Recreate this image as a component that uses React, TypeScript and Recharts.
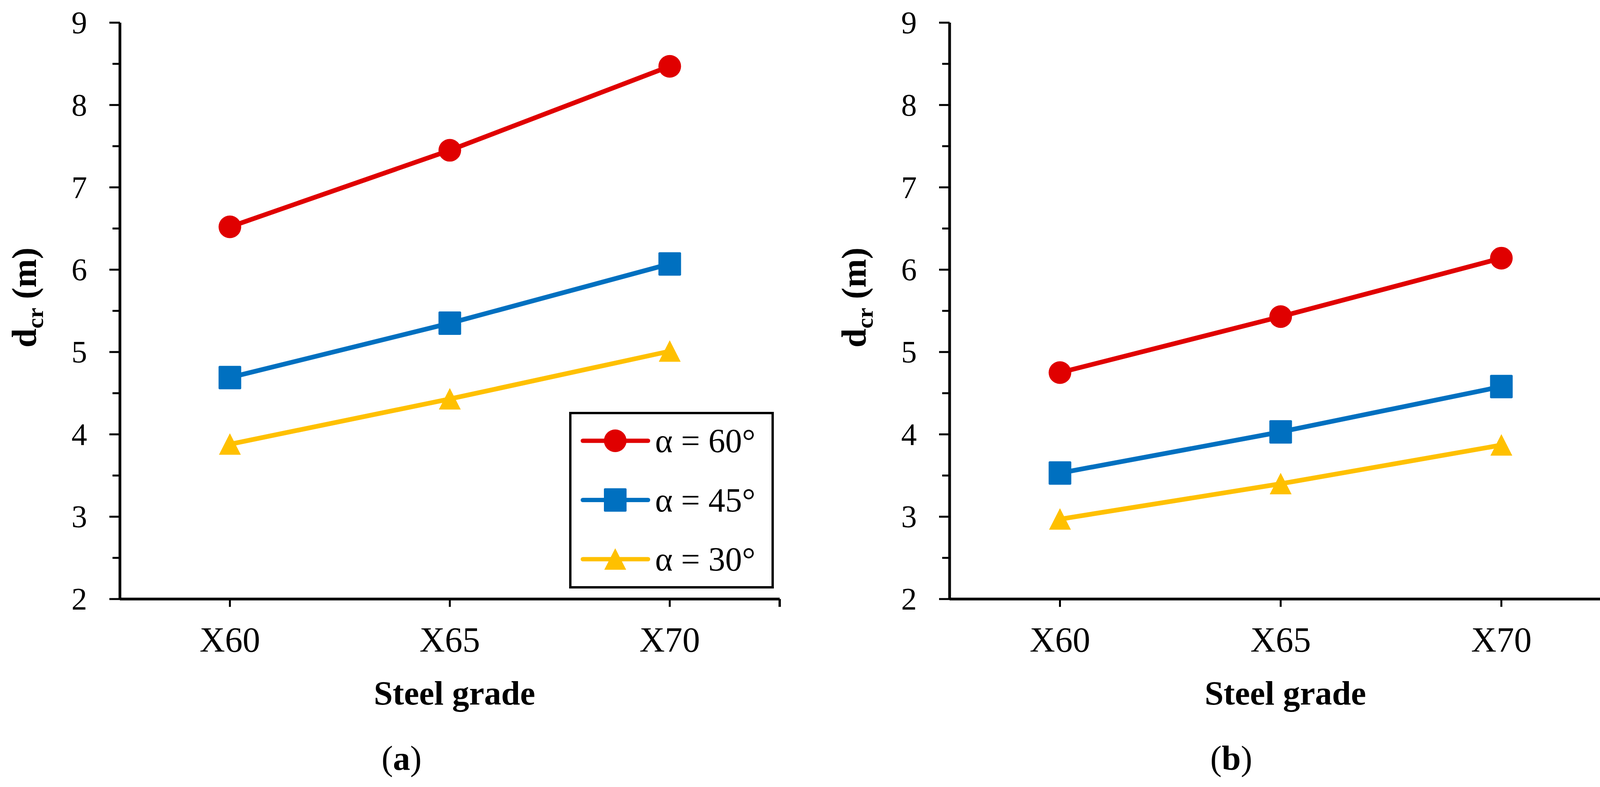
import React from 'react'
import { LineChart, Line, XAxis, YAxis, Legend } from 'recharts'

const grades = ['X60', 'X65', 'X70']

// panel (a)
const a60 = [6.52, 7.45, 8.47]
const a45 = [4.69, 5.35, 6.07]
const a30 = [3.88, 4.43, 5.01]

// panel (b)
const b60 = [4.75, 5.43, 6.14]
const b45 = [3.53, 4.03, 4.58]
const b30 = [2.97, 3.4, 3.87]

const yTicks = [2, 2.5, 3, 3.5, 4, 4.5, 5, 5.5, 6, 6.5, 7, 7.5, 8, 8.5, 9]

const SERIES = [
  { key: 's60', name: 'α = 60°', color: '#E00000', shape: 'circle' },
  { key: 's45', name: 'α = 45°', color: '#0070C0', shape: 'square' },
  { key: 's30', name: 'α = 30°', color: '#FFC000', shape: 'triangle' },
]

const FONT = '"Liberation Serif", "Times New Roman", serif'
const W = 2076
const H = 2014
const PLOT_TOP = 58
const PLOT_BOTTOM = 1533

function toRows(s60: number[], s45: number[], s30: number[]) {
  return grades.map((g, i) => ({ grade: g, s60: s60[i], s45: s45[i], s30: s30[i] }))
}

function Marker({ shape, cx, cy, color }: { shape: string; cx: number; cy: number; color: string }) {
  if (shape === 'circle') return <circle cx={cx} cy={cy} r={29} fill={color} />
  if (shape === 'square') return <rect x={cx - 29} y={cy - 30} width={58} height={60} rx={3} fill={color} />
  return <path d={`M${cx},${cy - 28} L${cx + 28},${cy + 27} L${cx - 28},${cy + 27} Z`} fill={color} strokeLinejoin="round" />
}

const makeDot = (shape: string, color: string) => (props: any) => {
  const { cx, cy, index } = props
  if (cx == null || cy == null) return <g key={`d-${index}`} />
  return <Marker key={`d-${index}`} shape={shape} cx={cx} cy={cy} color={color} />
}

function YTick({ x, y, payload }: any) {
  const major = Number.isInteger(payload.value)
  return (
    <g>
      <line x1={x - (major ? 27 : 19)} x2={x} y1={y} y2={y} stroke="#000" strokeWidth={5} />
      {major && (
        <text x={x - 84} y={y} dy="0.34em" textAnchor="end" fontSize={80} fontFamily={FONT} fill="#000">
          {payload.value}
        </text>
      )}
    </g>
  )
}

function XTick({ x, y, payload, edge }: any) {
  const last = payload.index === grades.length - 1
  return (
    <g>
      <line x1={x} x2={x} y1={y} y2={y + 20} stroke="#000" strokeWidth={5} />
      {last && <line x1={x + edge} x2={x + edge} y1={y} y2={y + 20} stroke="#000" strokeWidth={6} />}
      <text x={x} y={y + 135} textAnchor="middle" fontSize={90} fontFamily={FONT} fill="#000">
        {payload.value}
      </text>
    </g>
  )
}

const yTitle = (props: any) => {
  const { x, width, y, height } = props.viewBox
  const bx = x + width - 215
  const by = y + height / 2 - 34
  return (
    <text x={bx} y={by} transform={`rotate(-90 ${bx} ${by})`} textAnchor="middle" fontSize={88} fontWeight="bold" fontFamily={FONT} fill="#000">
      d<tspan fontSize={60} dy={18}>cr</tspan>
      <tspan dy={-18}> (m)</tspan>
    </text>
  )
}

const xTitle = (caption: string) => (props: any) => {
  const { x, y, width } = props.viewBox
  return (
    <g>
      <text x={x + width / 2 + 12} y={y + 270} textAnchor="middle" fontSize={87} fontWeight="bold" fontFamily={FONT} fill="#000">
        Steel grade
      </text>
      <text x={x + 721} y={y + 437} textAnchor="middle" fontSize={88} fontFamily={FONT} fill="#000">
        (<tspan fontWeight="bold">{caption}</tspan>)
      </text>
    </g>
  )
}

function LegendBox({ payload }: any) {
  // keep the series order of the reference legend
  const rows = SERIES.filter((s) => (payload || []).some((p: any) => p.dataKey === s.key))
  return (
    <svg width={524} height={452} style={{ display: 'block' }}>
      <rect x={3} y={3} width={518} height={446} fill="#fff" stroke="#000" strokeWidth={6} />
      {rows.map((s, i) => {
        const cy = 74 + i * 151.5
        return (
          <g key={s.key}>
            <line x1={35} x2={202} y1={cy} y2={cy} stroke={s.color} strokeWidth={11} strokeLinecap="round" />
            <Marker shape={s.shape} cx={118} cy={cy} color={s.color} />
            <text x={220} y={cy} dy="0.34em" fontSize={86} fontFamily={FONT} fill="#000">
              {s.name}
            </text>
          </g>
        )
      })}
    </svg>
  )
}

function Panel({ rows, axisWidth, rightMargin, caption, legend }: any) {
  const plotWidth = W - axisWidth - rightMargin
  const pad = plotWidth / 6
  return (
    <LineChart width={W} height={H} data={rows} margin={{ top: PLOT_TOP, right: rightMargin, left: 0, bottom: 0 }}>
      <XAxis
        dataKey="grade"
        height={H - PLOT_BOTTOM}
        padding={{ left: pad, right: pad }}
        axisLine={{ stroke: '#000', strokeWidth: 7 }}
        tickLine={false}
        tickSize={0}
        tickMargin={0}
        interval={0}
        tick={<XTick edge={pad} />}
        label={xTitle(caption)}
      />
      <XAxis xAxisId="top" dataKey="grade" orientation="top" height={0} tick={false} tickLine={false} axisLine={{ stroke: '#000', strokeWidth: 7 }} />
      <YAxis
        domain={[2, 9]}
        ticks={yTicks}
        interval={0}
        width={axisWidth}
        axisLine={{ stroke: '#000', strokeWidth: 7 }}
        tickLine={false}
        tickSize={0}
        tickMargin={0}
        tick={<YTick />}
        label={yTitle}
      />
      <YAxis yAxisId="right" orientation="right" domain={[2, 9]} width={0} tick={false} tickLine={false} axisLine={{ stroke: '#000', strokeWidth: 7 }} />
      {SERIES.map((s) => (
        <Line
          key={s.key}
          dataKey={s.key}
          name={s.name}
          stroke={s.color}
          strokeWidth={12}
          dot={makeDot(s.shape, s.color)}
          activeDot={false}
          isAnimationActive={false}
        />
      ))}
      {legend && (
        <Legend
          layout="vertical"
          align="center"
          verticalAlign="middle"
          content={<LegendBox />}
          wrapperStyle={{ left: 1457, top: 1054, width: 524, height: 452 }}
        />
      )}
    </LineChart>
  )
}

export default function App() {
  return (
    <div style={{ position: 'absolute', left: 0, top: 0, width: 4152, height: 2014, background: '#fff' }}>
      <div style={{ position: 'absolute', left: 0, top: 0 }}>
        <Panel rows={toRows(a60, a45, a30)} axisWidth={307} rightMargin={80} caption="a" legend />
      </div>
      <div style={{ position: 'absolute', left: 2076, top: 0 }}>
        <Panel rows={toRows(b60, b45, b30)} axisWidth={355} rightMargin={26} caption="b" legend={false} />
      </div>
    </div>
  )
}
